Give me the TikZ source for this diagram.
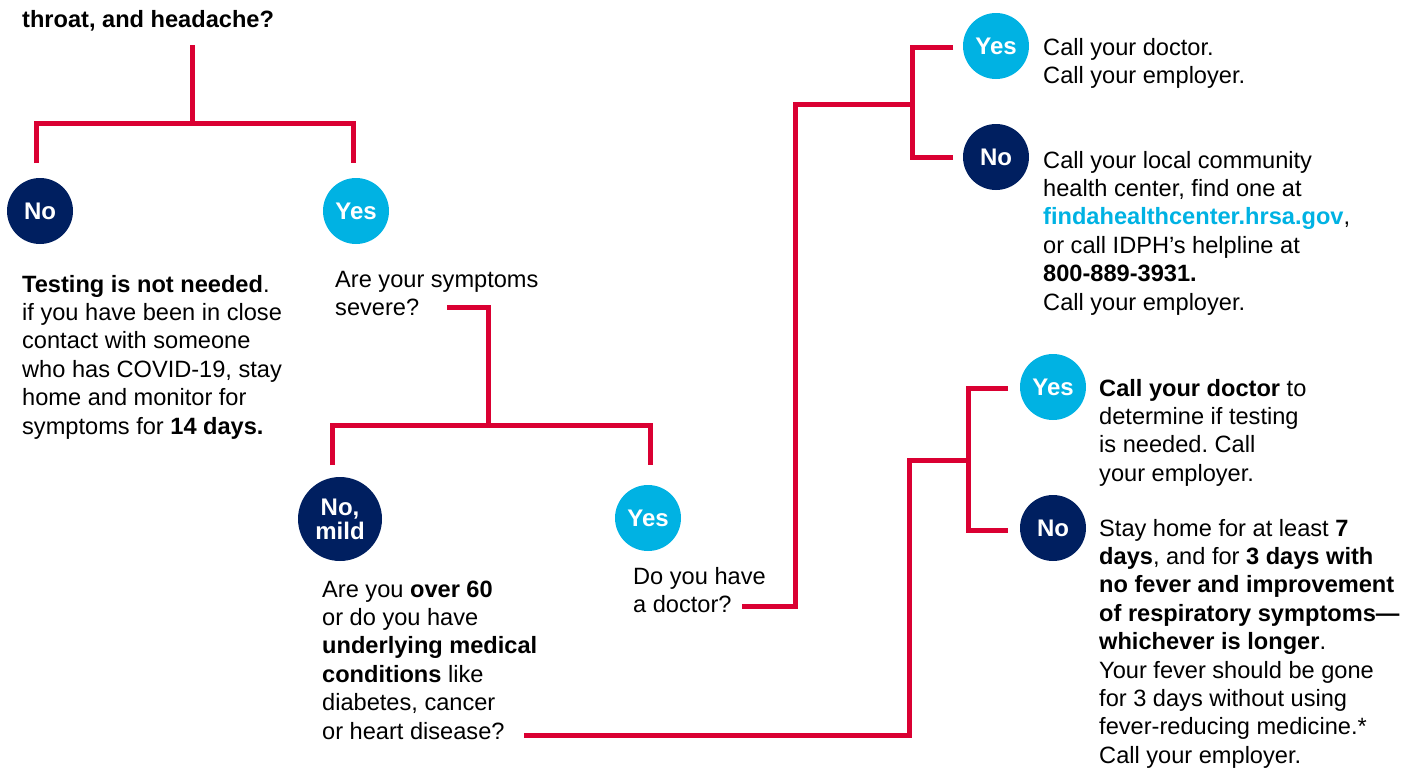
\documentclass[tikz,border=0pt]{standalone}
\usepackage{fontspec}
\setmainfont{Liberation Sans}
\usetikzlibrary{positioning}
\frenchspacing
\definecolor{alertred}{RGB}{218,0,50}
\definecolor{darknavy}{RGB}{0,31,96}
\definecolor{skycyan}{RGB}{0,178,227}
\tikzset{
  answer/.style = {circle, inner sep=0pt, minimum size=66pt, text=white,
    align=center, font=\fontsize{24}{24}\selectfont\bfseries},
  yesdot/.style = {answer, fill=skycyan},
  nodot/.style = {answer, fill=darknavy},
  % placed at the baseline of the last line
  says/.style = {anchor=base west, inner sep=0pt, align=left,
    font=\fontsize{23.6}{28.4}\selectfont},
  branch/.style = {draw=alertred, line width=5pt}
}

\begin{document}
\begin{tikzpicture}[x=1pt, y=-1pt]
  \useasboundingbox (0,0) rectangle (1414,769);

  % first question
  \node[says, font=\fontsize{23.6}{28.4}\selectfont\bfseries] (start) at (22,27) {throat, and headache?};
  \node[nodot] (no1) at (40,211) {No};
  \node[yesdot] (yes1) at (356,211) {Yes};
  \node[says] (notest) at (22,434) {\textbf{Testing is not needed}.\\
    if you have been in close\\contact with someone\\who has COVID-19, stay\\
    home and monitor for\\symptoms for \textbf{14 days.}};
  \node[says] (severe) at (335,315.4) {Are your symptoms\\severe?};

  % severity
  \node[nodot, minimum size=84pt] (mild) at (340,519) {No,\\mild};
  \node[yesdot] (yes2) at (648,518) {Yes};
  \node[says] (risk) at (322,739) {Are you \textbf{over 60}\\or do you have\\
    \textbf{underlying medical}\\\textbf{conditions} like\\diabetes, cancer\\or heart disease?};
  \node[says] (doctor) at (633,612.4) {Do you have\\a doctor?};

  % have a doctor
  \node[yesdot] (yes3) at (996,46) {Yes};
  \node[nodot] (no3) at (996,157) {No};
  \node[says] (calldoc) at (1043,83.4) {Call your doctor.\\Call your employer.};
  \node[says] (callcenter) at (1043,310) {Call your local community\\
    health center, find one at\\\textcolor{skycyan}{\textbf{findahealthcenter.hrsa.gov}},\\
    or call IDPH’s helpline at\\\textbf{800-889-3931.}\\Call your employer.};

  % over 60 or conditions
  \node[yesdot] (yes4) at (1053,387) {Yes};
  \node[nodot] (no4) at (1053,528) {No};
  \node[says] (testing) at (1099,481.2) {\textbf{Call your doctor} to\\
    determine if testing\\is needed. Call\\your employer.};
  \node[says] (stayhome) at (1099,763.2) {Stay home for at least \textbf{7}\\
    \textbf{days}, and for \textbf{3 days with}\\\textbf{no fever and improvement}\\
    \textbf{of respiratory symptoms—}\\\textbf{whichever is longer}.\\
    Your fever should be gone\\for 3 days without using\\
    fever-reducing medicine.*\\Call your employer.};

  % connectors
  \coordinate (start-out) at (192,45);
  \coordinate (split1) at (192,123);
  \coordinate (no1-in) at (36,163);
  \coordinate (yes1-in) at (353,163);
  \draw[branch] (start-out) -- (split1);
  \draw[branch] (no1-in) |- (split1) -| (yes1-in);

  \coordinate (severe-out) at (447,307);
  \coordinate (split2) at (488,425);
  \coordinate (mild-in) at (332,465);
  \coordinate (yes2-in) at (650,465);
  \draw[branch] (severe-out) -| (split2);
  \draw[branch] (mild-in) |- (split2) -| (yes2-in);

  \coordinate (doctor-out) at (742,606);
  \coordinate (bend3) at (795,104);
  \coordinate (split3) at (912,104);
  \coordinate (yes3-in) at (953,47);
  \coordinate (no3-in) at (953,157);
  \draw[branch] (doctor-out) -| (bend3) -- (split3);
  \draw[branch] (yes3-in) -| (split3) |- (no3-in);

  \coordinate (risk-out) at (524,735);
  \coordinate (bend4) at (909,460);
  \coordinate (split4) at (968,460);
  \coordinate (yes4-in) at (1008,388);
  \coordinate (no4-in) at (1008,530);
  \draw[branch] (risk-out) -| (bend4) -- (split4);
  \draw[branch] (yes4-in) -| (split4) |- (no4-in);
\end{tikzpicture}
\end{document}
